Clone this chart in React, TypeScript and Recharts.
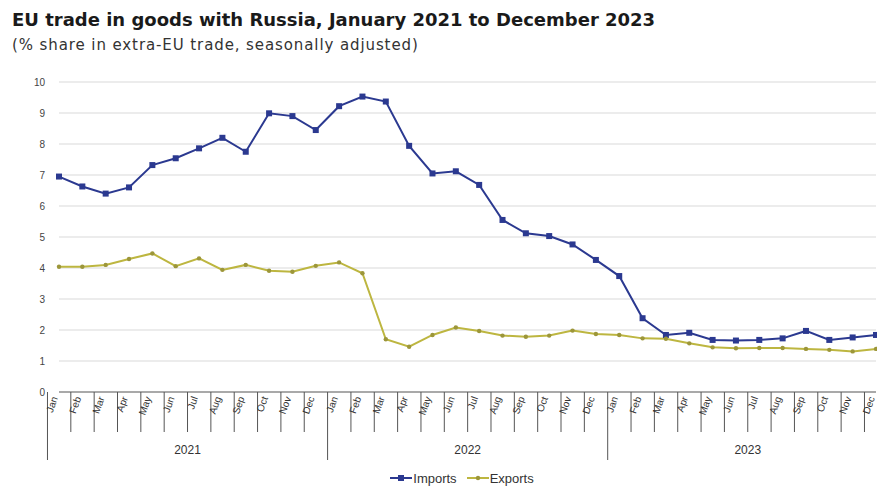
import React from 'react';
import { LineChart, Line, XAxis, YAxis, CartesianGrid, Legend } from 'recharts';

const months = ['Jan', 'Feb', 'Mar', 'Apr', 'May', 'Jun', 'Jul', 'Aug', 'Sep', 'Oct', 'Nov', 'Dec'];
const years = ['2021', '2022', '2023'];

const imports = [
  6.95, 6.63, 6.4, 6.6, 7.32, 7.54, 7.86, 8.2, 7.75, 8.99, 8.9, 8.45,
  9.22, 9.53, 9.37, 7.94, 7.05, 7.12, 6.68, 5.55, 5.12, 5.03, 4.76, 4.26,
  3.74, 2.38, 1.84, 1.91, 1.68, 1.66, 1.68, 1.73, 1.97, 1.68, 1.76, 1.84,
];

const exports = [
  4.04, 4.04, 4.1, 4.29, 4.47, 4.06, 4.31, 3.94, 4.1, 3.91, 3.88, 4.07,
  4.18, 3.83, 1.7, 1.46, 1.84, 2.08, 1.97, 1.82, 1.78, 1.82, 1.98, 1.87,
  1.84, 1.73, 1.72, 1.57, 1.44, 1.41, 1.42, 1.42, 1.39, 1.36, 1.31, 1.39,
];

const yTicks = [0, 1, 2, 3, 4, 5, 6, 7, 8, 9, 10];

const data = imports.map((v, i) => ({
  key: `${years[Math.floor(i / 12)]}-${months[i % 12]}`,
  month: months[i % 12],
  year: years[Math.floor(i / 12)],
  Imports: v,
  Exports: exports[i],
}));

const BLUE = '#2b3990';
const OLIVE = '#bdb640';
const FONT = 'Liberation Sans, Arial, sans-serif';

const MonthTick = (props: any) => {
  const { x, y, payload, index } = props;
  const half = payload.offset || 830 / 36 / 2;
  const left = x - half;
  const item = data[index] || data[0];
  const isYearStart = index % 12 === 0;
  return (
    <g>
      <line x1={left} y1={y} x2={left} y2={isYearStart ? y + 68 : y + 40} stroke="#555" strokeWidth={1} />
      {index === data.length - 1 && (
        <line x1={x + half} y1={y} x2={x + half} y2={y + 68} stroke="#555" strokeWidth={1} />
      )}
      <text
        x={x - 1}
        y={y + 6}
        textAnchor="end"
        transform={`rotate(-70, ${x - 1}, ${y + 6})`}
        fontSize={10}
        fill="#333"
        fontFamily={FONT}
      >
        {item.month}
      </text>
      {index % 12 === 6 && (
        <text x={left} y={y + 62} textAnchor="middle" fontSize={12} fill="#333" fontFamily={FONT}>
          {item.year}
        </text>
      )}
    </g>
  );
};

const SquareDot = (p: any) => (
  <rect key={`sq-${p.index}`} x={p.cx - 3} y={p.cy - 3} width={6} height={6} fill={BLUE} />
);

const SmallDot = (p: any) => (
  <circle key={`ci-${p.index}`} cx={p.cx} cy={p.cy} r={2.2} fill="#9c963a" />
);

const LegendContent = () => (
  <div
    style={{
      height: 24,
      display: 'flex',
      justifyContent: 'center',
      alignItems: 'center',
      gap: 10,
      paddingLeft: 36,
      fontSize: 13,
      color: '#333',
      fontFamily: FONT,
    }}
  >
    <span style={{ display: 'flex', alignItems: 'center', gap: 1 }}>
      <svg width={22} height={8}>
        <line x1={0} y1={4} x2={22} y2={4} stroke={BLUE} strokeWidth={2} />
        <rect x={8} y={1} width={6} height={6} fill={BLUE} />
      </svg>
      Imports
    </span>
    <span style={{ display: 'flex', alignItems: 'center', gap: 1 }}>
      <svg width={22} height={8}>
        <line x1={0} y1={4} x2={22} y2={4} stroke={OLIVE} strokeWidth={2} />
        <circle cx={11} cy={4} r={2.2} fill="#9c963a" />
      </svg>
      Exports
    </span>
  </div>
);

export default function App() {
  return (
    <div style={{ position: 'absolute', left: 0, top: 0, width: 877, height: 490, background: '#fff' }}>
      <div
        style={{
          position: 'absolute',
          left: 12,
          top: 9,
          fontFamily: 'DejaVu Sans, sans-serif',
          fontWeight: 'bold',
          fontSize: 18,
          color: '#1a1a1a',
          whiteSpace: 'nowrap',
        }}
      >
        EU trade in goods with Russia, January 2021 to December 2023
      </div>
      <div
        style={{
          position: 'absolute',
          left: 12,
          top: 36,
          fontFamily: 'DejaVu Sans, sans-serif',
          fontSize: 15,
          letterSpacing: 0.9,
          color: '#333',
          whiteSpace: 'nowrap',
        }}
      >
        (% share in extra-EU trade, seasonally adjusted)
      </div>
      <LineChart width={877} height={490} data={data} margin={{ top: 82, right: 1, left: 12, bottom: 0 }}>
        <CartesianGrid vertical={false} stroke="#d9d9d9" />
        <XAxis
          dataKey="key"
          interval={0}
          tickSize={0}
          tickMargin={0}
          height={74}
          stroke="#666"
          tick={<MonthTick />}
        />
        <YAxis
          domain={[0, 10]}
          ticks={yTicks}
          width={47}
          axisLine={false}
          tickLine={false}
          tickMargin={8}
          tick={{ fontSize: 10, fill: '#444', fontFamily: FONT }}
        />
        <Legend verticalAlign="bottom" content={<LegendContent />} />
        <Line
          type="linear"
          dataKey="Imports"
          stroke={BLUE}
          strokeWidth={2}
          dot={SquareDot}
          isAnimationActive={false}
        />
        <Line
          type="linear"
          dataKey="Exports"
          stroke={OLIVE}
          strokeWidth={2}
          dot={SmallDot}
          isAnimationActive={false}
        />
      </LineChart>
    </div>
  );
}
